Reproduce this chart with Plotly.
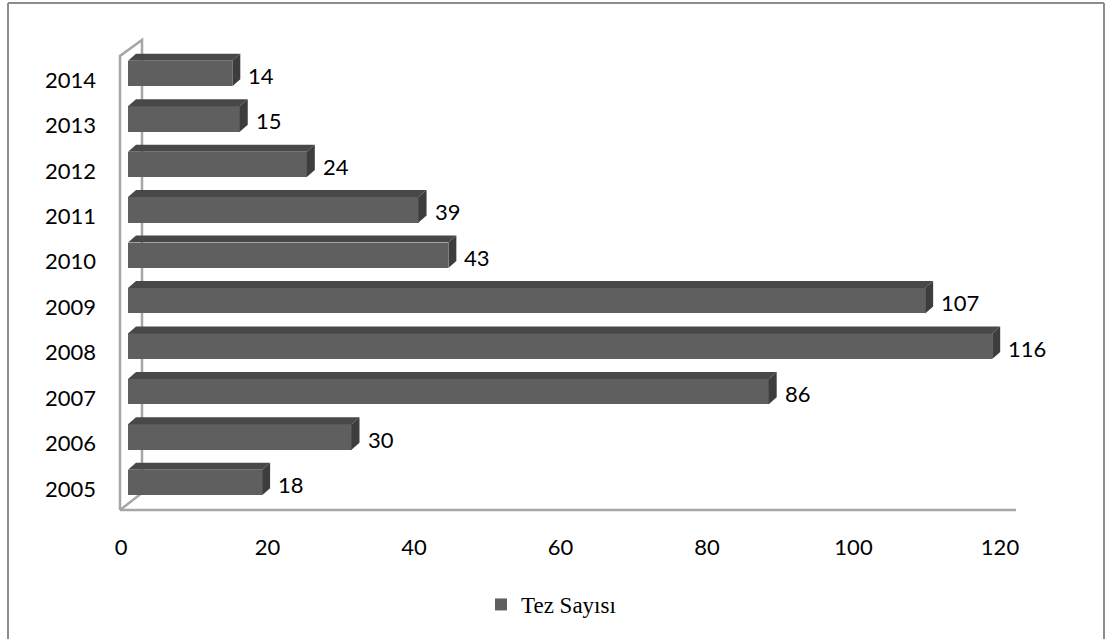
import plotly.graph_objects as go

# Thesis counts per year
years = ["2005", "2006", "2007", "2008", "2009", "2010", "2011", "2012", "2013", "2014"]
counts = [18, 30, 86, 116, 107, 43, 39, 24, 15, 14]
x_ticks = [0, 20, 40, 60, 80, 100, 120]
series_name = "Tez Sayısı"

W, H = 1105, 639

# Page geometry (pixels from the top-left corner)
TICK_X0, TICK_X1 = 121, 1000          # value axis 0 .. 120 for the tick labels
BAR_X0, BAR_X1 = 128, 1022            # value axis 0 .. 120 for the bar fronts (3D depth shift)
PLOT_TOP, PLOT_BOT = 40, 510
Y_MIN, Y_MAX = -0.462, 9.88
BAR_W = 0.56                          # bar thickness in category units
BAR_LIFT = 0.143                      # bar front sits slightly above the category line
DEPTH_X_PX, DEPTH_Y_PX = 8, 7         # 3D depth of each bar

FRONT = "#5f5f5f"
TOP = "#484848"
SIDE = "#3d3d3d"
WALL = "#a6a6a6"
FONT = "Lato"

px_per_val = (BAR_X1 - BAR_X0) / 120.0
px_per_cat = (PLOT_BOT - PLOT_TOP) / (Y_MAX - Y_MIN)
dxv = DEPTH_X_PX / px_per_val
dyv = DEPTH_Y_PX / px_per_cat


def fx(x):
    return x / W


def fy(y):
    return 1 - y / H


pos = list(range(len(years)))

fig = go.Figure()
fig.add_trace(go.Bar(
    y=pos, x=counts, orientation="h", name=series_name,
    xaxis="x2", yaxis="y",
    width=BAR_W, offset=BAR_LIFT - BAR_W / 2,
    marker=dict(color=FRONT, line=dict(width=0)),
    showlegend=True,
))
# empty helper trace so the tick-label axis gets its own subplot
fig.add_trace(go.Scatter(
    x=x_ticks, y=[None] * len(x_ticks), xaxis="x", yaxis="y",
    mode="markers", hoverinfo="skip", showlegend=False,
))

shapes = []
annotations = []
for p, v in zip(pos, counts):
    y_bot = p + BAR_LIFT - BAR_W / 2
    y_top = y_bot + BAR_W
    # top face
    shapes.append(dict(
        type="path", xref="x2", yref="y", layer="above",
        path=f"M 0,{y_top} L {v},{y_top} L {v + dxv},{y_top + dyv} L {dxv},{y_top + dyv} Z",
        fillcolor=TOP, line=dict(width=0),
    ))
    # right side face
    shapes.append(dict(
        type="path", xref="x2", yref="y", layer="above",
        path=f"M {v},{y_bot} L {v},{y_top} L {v + dxv},{y_top + dyv} L {v + dxv},{y_bot + dyv} Z",
        fillcolor=SIDE, line=dict(width=0),
    ))
    annotations.append(dict(
        x=v, y=p + BAR_LIFT, xref="x2", yref="y",
        text=str(v), showarrow=False, xanchor="left", yanchor="middle",
        xshift=14, yshift=-2, font=dict(family=FONT, size=22, color="#000000"),
    ))

# left wall outline and floor edge
wall_front_x, wall_back_x = 120, 142
wall_front_top, wall_back_top = 56, 40
floor_back_y = 493
shapes.append(dict(
    type="path", xref="paper", yref="paper", layer="below",
    path=(f"M {fx(wall_front_x)},{fy(PLOT_BOT)} L {fx(wall_front_x)},{fy(wall_front_top)} "
          f"L {fx(wall_back_x)},{fy(wall_back_top)} L {fx(wall_back_x)},{fy(floor_back_y)} "
          f"L {fx(wall_front_x)},{fy(PLOT_BOT)}"),
    line=dict(color=WALL, width=2.5),
))
shapes.append(dict(
    type="line", xref="paper", yref="paper", layer="below",
    x0=fx(wall_front_x), x1=fx(1016), y0=fy(PLOT_BOT), y1=fy(PLOT_BOT),
    line=dict(color=WALL, width=2.5),
))
# chart border
BORDER = "#8c8c8c"
shapes.append(dict(type="line", xref="paper", yref="paper", x0=fx(8), x1=fx(8), y0=-0.1, y1=fy(3),
                   line=dict(color=BORDER, width=2)))
shapes.append(dict(type="line", xref="paper", yref="paper", x0=fx(8), x1=fx(1104), y0=fy(3), y1=fy(3),
                   line=dict(color=BORDER, width=2)))
shapes.append(dict(type="line", xref="paper", yref="paper", x0=fx(1104), x1=fx(1104), y0=-0.1, y1=fy(3),
                   line=dict(color=BORDER, width=2)))

fig.update_layout(
    width=W, height=H,
    margin=dict(l=0, r=0, t=0, b=0, autoexpand=False),
    paper_bgcolor="white", plot_bgcolor="rgba(0,0,0,0)",
    bargap=0,
    xaxis=dict(
        domain=[fx(TICK_X0), fx(TICK_X1)], range=[0, 120], anchor="y",
        tickvals=x_ticks, ticktext=[str(t) for t in x_ticks],
        showgrid=False, zeroline=False, showline=False, ticks="",
        ticklabelstandoff=22, automargin=False,
        tickfont=dict(family=FONT, size=22, color="#000000"),
    ),
    xaxis2=dict(
        domain=[fx(BAR_X0), fx(BAR_X1)], range=[0, 120], anchor="y",
        visible=False,
    ),
    yaxis=dict(
        domain=[fy(PLOT_BOT), fy(PLOT_TOP)], range=[Y_MIN, Y_MAX], anchor="x",
        tickvals=pos, ticktext=years,
        showgrid=False, zeroline=False, showline=False, ticks="",
        ticklabelstandoff=24, automargin=False,
        tickfont=dict(family=FONT, size=22, color="#000000"),
    ),
    showlegend=True,
    legend=dict(
        orientation="h", x=fx(481), xanchor="left", y=fy(583), yanchor="top",
        itemwidth=30,
        font=dict(family="Liberation Serif", size=23, color="#000000"),
        bgcolor="rgba(0,0,0,0)",
    ),
    shapes=shapes,
    annotations=annotations,
)

fig.write_html("out.html")
